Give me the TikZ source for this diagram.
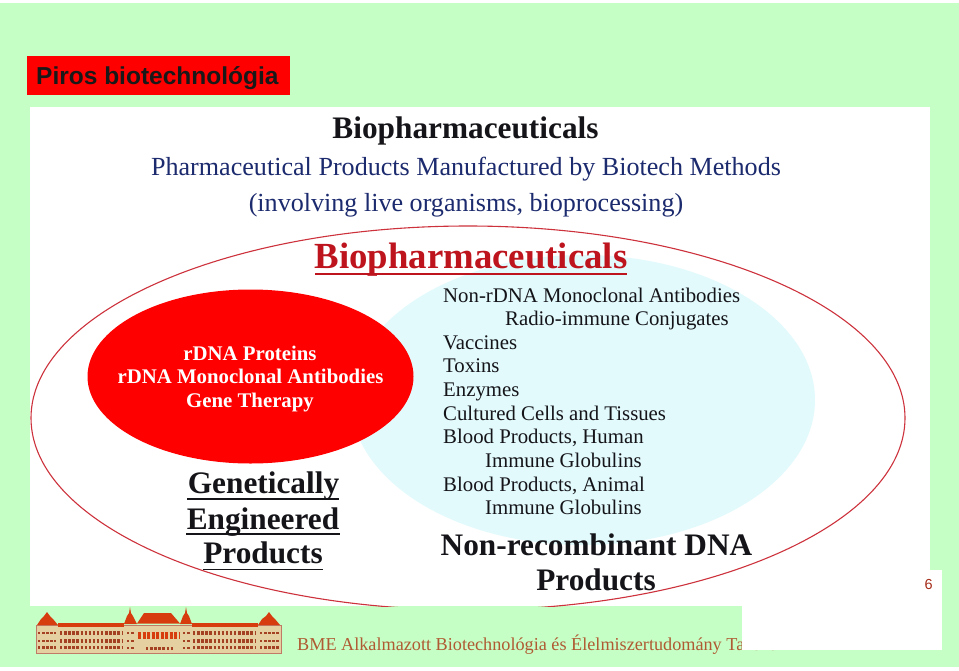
\documentclass[tikz,border=0pt]{standalone}
\usepackage{fontspec}
\setmainfont{Liberation Serif}
\newfontfamily\arialf{Liberation Sans}
\definecolor{bgg}{RGB}{198,255,198}
\definecolor{ringred}{RGB}{205,50,60}
\definecolor{paleblue}{RGB}{226,250,252}
\definecolor{navyt}{RGB}{28,42,110}
\definecolor{darkt}{RGB}{20,20,25}
\definecolor{redt}{RGB}{190,20,30}
\definecolor{foott}{RGB}{175,90,50}
\definecolor{brick}{RGB}{215,60,15}
\definecolor{sand}{RGB}{228,208,160}
\definecolor{winc}{RGB}{165,65,35}
\tikzset{
 x=1pt,y=-1pt,
 lab/.style={inner sep=0pt,anchor=base west,text=darkt},
 big/.style={inner sep=0pt,anchor=base,text=darkt,font=\bfseries\fontsize{31.3}{32}\selectfont},
 item/.style={lab,font=\fontsize{20.8}{21}\selectfont},
 gen/.style={inner sep=0pt,anchor=base,text=white,font=\bfseries\fontsize{20.8}{21}\selectfont},
 ul/.style={darkt,line width=1.4pt},
 roof/.style={fill=brick,draw=none},
 wall/.style={fill=sand,draw=winc!70,line width=.5pt},
 win/.style={draw=winc,line width=3.4pt,dash pattern=on 2.4pt off 1.7pt}
}
\begin{document}
\begin{tikzpicture}
\useasboundingbox (0,0) rectangle (959,670);
\fill[white] (0,0) rectangle (959,670);
\fill[bgg] (0,3) rectangle (959,667);
% title
\node[fill=red,minimum width=263pt,minimum height=39pt,inner sep=0pt,anchor=north west] (titlebox) at (27,56) {};
\node[inner sep=0pt,anchor=base west,text=black!90,font=\arialf\bfseries\fontsize{24.5}{25}\selectfont] (titletext) at (36,84.5) {Piros biotechnológia};
% photo
\fill[white] (30,107) rectangle (930,606);
\fill[paleblue] (583,400) ellipse [x radius=232,y radius=145];
\begin{scope}
\clip (30,107) rectangle (959,606);
\draw[ringred,line width=1.1pt] (468,418) ellipse [x radius=437,y radius=192];
\end{scope}
\fill[red] (250.5,376.5) ellipse [x radius=163,y radius=87];
% headings
\node[big] (h1) at (465.5,138) {Biopharmaceuticals};
\node[inner sep=0pt,anchor=base,text=navyt,font=\fontsize{26.1}{27}\selectfont] (h2) at (466,175) {Pharmaceutical Products Manufactured by Biotech Methods};
\node[inner sep=0pt,anchor=base,text=navyt,font=\fontsize{26.1}{27}\selectfont] (h3) at (466,211) {(involving live organisms, bioprocessing)};
\node[inner sep=0pt,anchor=base,text=redt,font=\bfseries\fontsize{36.8}{37}\selectfont] (h4) at (471,268) {Biopharmaceuticals};
\draw[redt,line width=1.6pt] (315,274) -- (627,274);
% red ellipse
\node[gen] (g1) at (250,360) {rDNA Proteins};
\node[gen] (g2) at (250.5,383) {rDNA Monoclonal Antibodies};
\node[gen] (g3) at (250,407) {Gene Therapy};
% list
\node[item] (l1) at (443,302) {Non-rDNA Monoclonal Antibodies};
\node[item] (l2) at (505,325.5) {Radio-immune Conjugates};
\node[item] (l3) at (443,349) {Vaccines};
\node[item] (l4) at (443,372.5) {Toxins};
\node[item] (l5) at (443,396) {Enzymes};
\node[item] (l6) at (443,420) {Cultured Cells and Tissues};
\node[item] (l7) at (443,443) {Blood Products, Human};
\node[item] (l8) at (485,467) {Immune Globulins};
\node[item] (l9) at (443,491) {Blood Products, Animal};
\node[item] (l10) at (485,514.5) {Immune Globulins};
% genetically engineered
\node[big] (e1) at (263.5,493) {Genetically};
\draw[ul] (187,499) -- (339,499);
\node[big] (e2) at (263,529) {Engineered};
\draw[ul] (186,534) -- (340,534);
\node[big] (e3) at (263,563) {Products};
\draw[ul] (203,569.5) -- (323,569.5);
\node[big] (n1) at (596.5,555) {Non-recombinant DNA};
\node[big] (n2) at (596,590) {Products};
% footer building
\begin{scope}
\fill[wall] (36,625) rectangle (281,653.5);
\fill[roof] (58,622.5) rectangle (124,627);
\fill[roof] (192,622.5) rectangle (258,627);
\fill[roof] (124,624) -- (127,616) -- (129,613) -- (130,607) -- (131,613) -- (133,616) -- (137,624) -- cycle;
\fill[roof] (180,624) -- (183,616) -- (185,613) -- (186,607) -- (187,613) -- (189,616) -- (192,624) -- cycle;
\fill[roof] (137,623.5) -- (144,613) -- (171,613) -- (180,623.5) -- cycle;
\fill[roof] (37,625) -- (41,619) -- (44,616) -- (47,612) -- (50,616) -- (53,619) -- (58,625) -- cycle;
\fill[roof] (258,625) -- (262,619) -- (266,616) -- (269,612) -- (272,616) -- (275,619) -- (280,625) -- cycle;
\foreach \y in {633,641,647.5}{
 \draw[win] (60,\y) -- (123,\y);
 \draw[win] (193,\y) -- (256,\y);
 \draw[win,line width=2.6pt] (38,\y) -- (56,\y);
 \draw[win,line width=2.6pt] (260,\y) -- (279,\y);
 \draw[win,line width=2pt] (127,\y) -- (134,\y);
 \draw[win,line width=2pt] (183,\y) -- (190,\y);
}
\draw[win,line width=7pt,brick,dash pattern=on 3pt off 1.5pt] (138,635) -- (179,635);
\draw[win,line width=3pt] (146,648) -- (174,648);
\end{scope}
\node[inner sep=0pt,anchor=base west,text=foott,font=\fontsize{18.2}{19}\selectfont] (foot) at (297,650) {BME Alkalmazott Biotechnológia és Élelmiszertudomány Tanszék};
% page number box
\fill[white] (742,606) rectangle (942,650);
\fill[white] (930,570) rectangle (942,606);
\node[inner sep=0pt,anchor=base east,text=foott!60!red!80!black,font=\arialf\fontsize{14.5}{15}\selectfont] (pg) at (933,589) {6};
\end{tikzpicture}
\end{document}
